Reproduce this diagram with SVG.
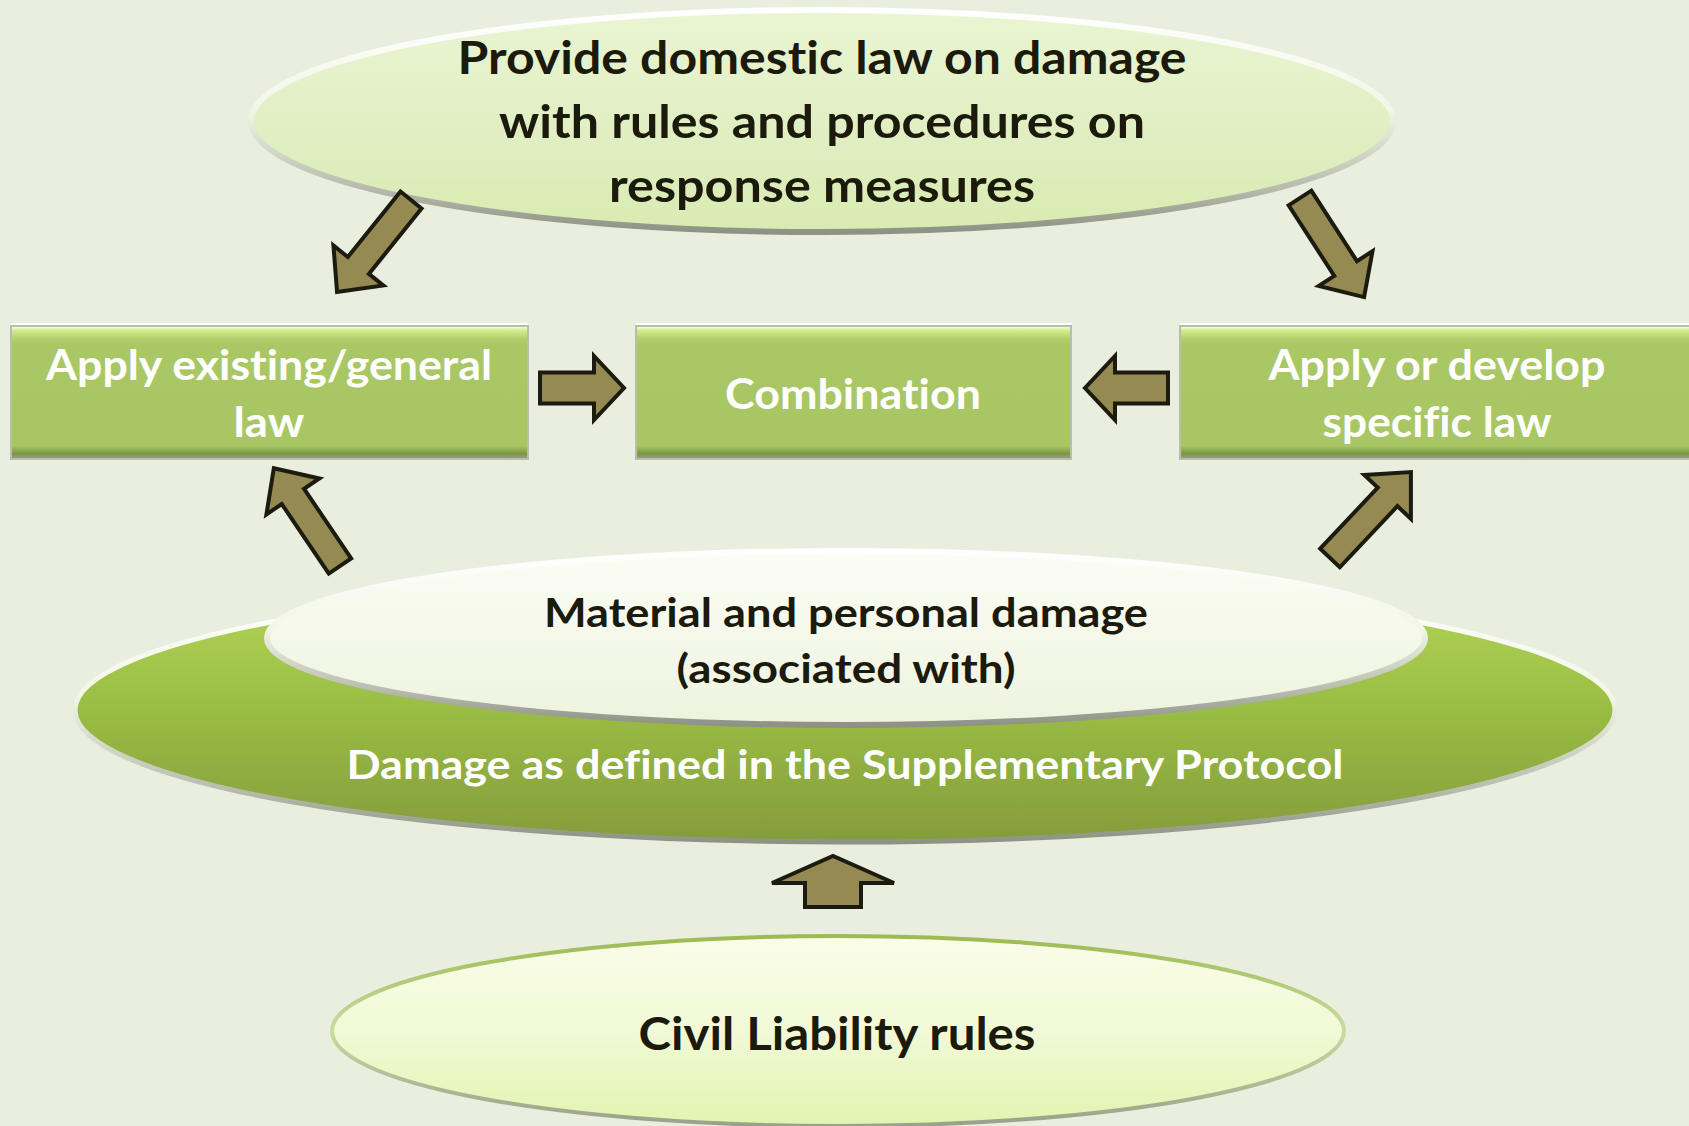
<svg xmlns="http://www.w3.org/2000/svg" xmlns:xlink="http://www.w3.org/1999/xlink" width="1689" height="1126" viewBox="0 0 1689 1126">
<style>
.dark{font-family:Lato,"Open Sans","Liberation Sans",sans-serif;font-weight:700;fill:#1b1a0c;text-anchor:middle;font-variant-ligatures:none;font-feature-settings:"liga" 0,"clig" 0,"dlig" 0}
.light{font-family:Lato,"Open Sans","Liberation Sans",sans-serif;font-weight:700;fill:#ffffff;text-anchor:middle;font-variant-ligatures:none;font-feature-settings:"liga" 0,"clig" 0,"dlig" 0}
.arrow{fill:#958a52;stroke:#1c1b10;stroke-width:4;stroke-linejoin:miter}
.box{fill:url(#boxFill);stroke:#b9bdb0;stroke-width:2}
.boxhl{fill:none;stroke:#ffffff;stroke-width:2}
</style>
<defs>
<linearGradient id="boxFill" x1="0" y1="0" x2="0" y2="1">
<stop offset="0" stop-color="#ffffff"/>
<stop offset="0.03" stop-color="#d4ee90"/>
<stop offset="0.09" stop-color="#b4d270"/>
<stop offset="0.14" stop-color="#a9c865"/>
<stop offset="0.9" stop-color="#a8c764"/>
<stop offset="0.96" stop-color="#7c9742"/>
<stop offset="1" stop-color="#9a9d92"/>
</linearGradient>
<linearGradient id="rimLight" x1="0" y1="0" x2="0" y2="1">
<stop offset="0" stop-color="#ffffff"/>
<stop offset="0.45" stop-color="#f2f6e6"/>
<stop offset="0.8" stop-color="#b8bcae"/>
<stop offset="1" stop-color="#8e9284"/>
</linearGradient>
<linearGradient id="topFill" x1="0" y1="0" x2="0" y2="1">
<stop offset="0" stop-color="#eaf5d2"/>
<stop offset="0.5" stop-color="#e1efc4"/>
<stop offset="1" stop-color="#d9ebb2"/>
</linearGradient>
<linearGradient id="greenFill" x1="0" y1="0" x2="0" y2="1">
<stop offset="0" stop-color="#b4d65a"/>
<stop offset="0.45" stop-color="#9cc045"/>
<stop offset="1" stop-color="#849c3c"/>
</linearGradient>
<linearGradient id="whiteFill" x1="0" y1="0" x2="0" y2="1">
<stop offset="0" stop-color="#fbfdf4"/>
<stop offset="1" stop-color="#eef3df"/>
</linearGradient>
<linearGradient id="civilFill" x1="0" y1="0" x2="0" y2="1">
<stop offset="0" stop-color="#fafde9"/>
<stop offset="0.5" stop-color="#f1f9d6"/>
<stop offset="1" stop-color="#e2f4b0"/>
</linearGradient>
<linearGradient id="civilRim" x1="0" y1="0" x2="0" y2="1">
<stop offset="0" stop-color="#9cbb52"/>
<stop offset="0.5" stop-color="#c9dca0"/>
<stop offset="1" stop-color="#9aa08c"/>
</linearGradient>
<path id="diag" d="M0,-13.5 L84,-13.5 L84,-32 L118,0 L84,32 L84,13.5 L0,13.5 Z"/>
</defs>
<rect x="0" y="0" width="1689" height="1126" fill="#eaeedf"/>

<g id="node-top">
<ellipse cx="822" cy="121" rx="571" ry="111" fill="url(#topFill)" stroke="url(#rimLight)" stroke-width="6"/>
<text class="dark" font-size="46" x="822" y="74" textLength="729" lengthAdjust="spacingAndGlyphs">Provide domestic law on damage</text>
<text class="dark" font-size="46" x="822" y="138" textLength="646" lengthAdjust="spacingAndGlyphs">with rules and procedures on</text>
<text class="dark" font-size="46" x="822" y="202" textLength="426" lengthAdjust="spacingAndGlyphs">response measures</text>
</g>

<g id="node-general">
<rect class="box" x="11" y="326" width="517" height="133"/>
<line class="boxhl" x1="11" y1="324" x2="528" y2="324"/>
<text class="light" font-size="42" x="269" y="380" textLength="446" lengthAdjust="spacingAndGlyphs">Apply existing/general</text>
<text class="light" font-size="42" x="269" y="437" textLength="71" lengthAdjust="spacingAndGlyphs">law</text>
</g>

<g id="node-combination">
<rect class="box" x="636" y="326" width="435" height="133"/>
<line class="boxhl" x1="636" y1="324" x2="1071" y2="324"/>
<text class="light" font-size="42" x="853" y="409" textLength="256" lengthAdjust="spacingAndGlyphs">Combination</text>
</g>

<g id="node-specific">
<rect class="box" x="1180" y="326" width="514" height="133"/>
<line class="boxhl" x1="1180" y1="324" x2="1694" y2="324"/>
<text class="light" font-size="42" x="1437" y="380" textLength="337" lengthAdjust="spacingAndGlyphs">Apply or develop</text>
<text class="light" font-size="42" x="1437" y="437" textLength="229" lengthAdjust="spacingAndGlyphs">specific law</text>
</g>

<g id="node-damage">
<ellipse cx="845" cy="710" rx="770" ry="132" fill="url(#greenFill)" stroke="url(#rimLight)" stroke-width="5"/>
<text class="light" font-size="40" x="845" y="779" textLength="997" lengthAdjust="spacingAndGlyphs">Damage as defined in the Supplementary Protocol</text>
</g>

<g id="node-material">
<ellipse cx="846" cy="638" rx="579" ry="87" fill="url(#whiteFill)" stroke="url(#rimLight)" stroke-width="6"/>
<text class="dark" font-size="40" x="846" y="627" textLength="604" lengthAdjust="spacingAndGlyphs">Material and personal damage</text>
<text class="dark" font-size="40" x="846" y="683" textLength="339" lengthAdjust="spacingAndGlyphs">(associated with)</text>
</g>

<g id="node-civil">
<ellipse cx="838" cy="1031" rx="506" ry="95" fill="url(#civilFill)" stroke="url(#civilRim)" stroke-width="4"/>
<text class="dark" font-size="46" x="837" y="1050" textLength="397" lengthAdjust="spacingAndGlyphs">Civil Liability rules</text>
</g>

<g id="connectors">
<use href="#diag" xlink:href="#diag" class="arrow" transform="translate(411,200) rotate(128.8)"/>
<use href="#diag" xlink:href="#diag" class="arrow" transform="translate(1300,198) rotate(57.1)"/>
<use href="#diag" xlink:href="#diag" class="arrow" transform="translate(340,566) rotate(-124.1)"/>
<use href="#diag" xlink:href="#diag" class="arrow" transform="translate(1330,558) rotate(-46.7)"/>
<path class="arrow" d="M540,372.5 L594,372.5 L594,356 L624,388 L594,420 L594,403.5 L540,403.5 Z"/>
<path class="arrow" d="M1168,372.5 L1115,372.5 L1115,356 L1085,388 L1115,420 L1115,403.5 L1168,403.5 Z"/>
<path class="arrow" d="M805,907 L805,883 L772,883 L833,856 L894,883 L861,883 L861,907 Z"/>
</g>
</svg>
